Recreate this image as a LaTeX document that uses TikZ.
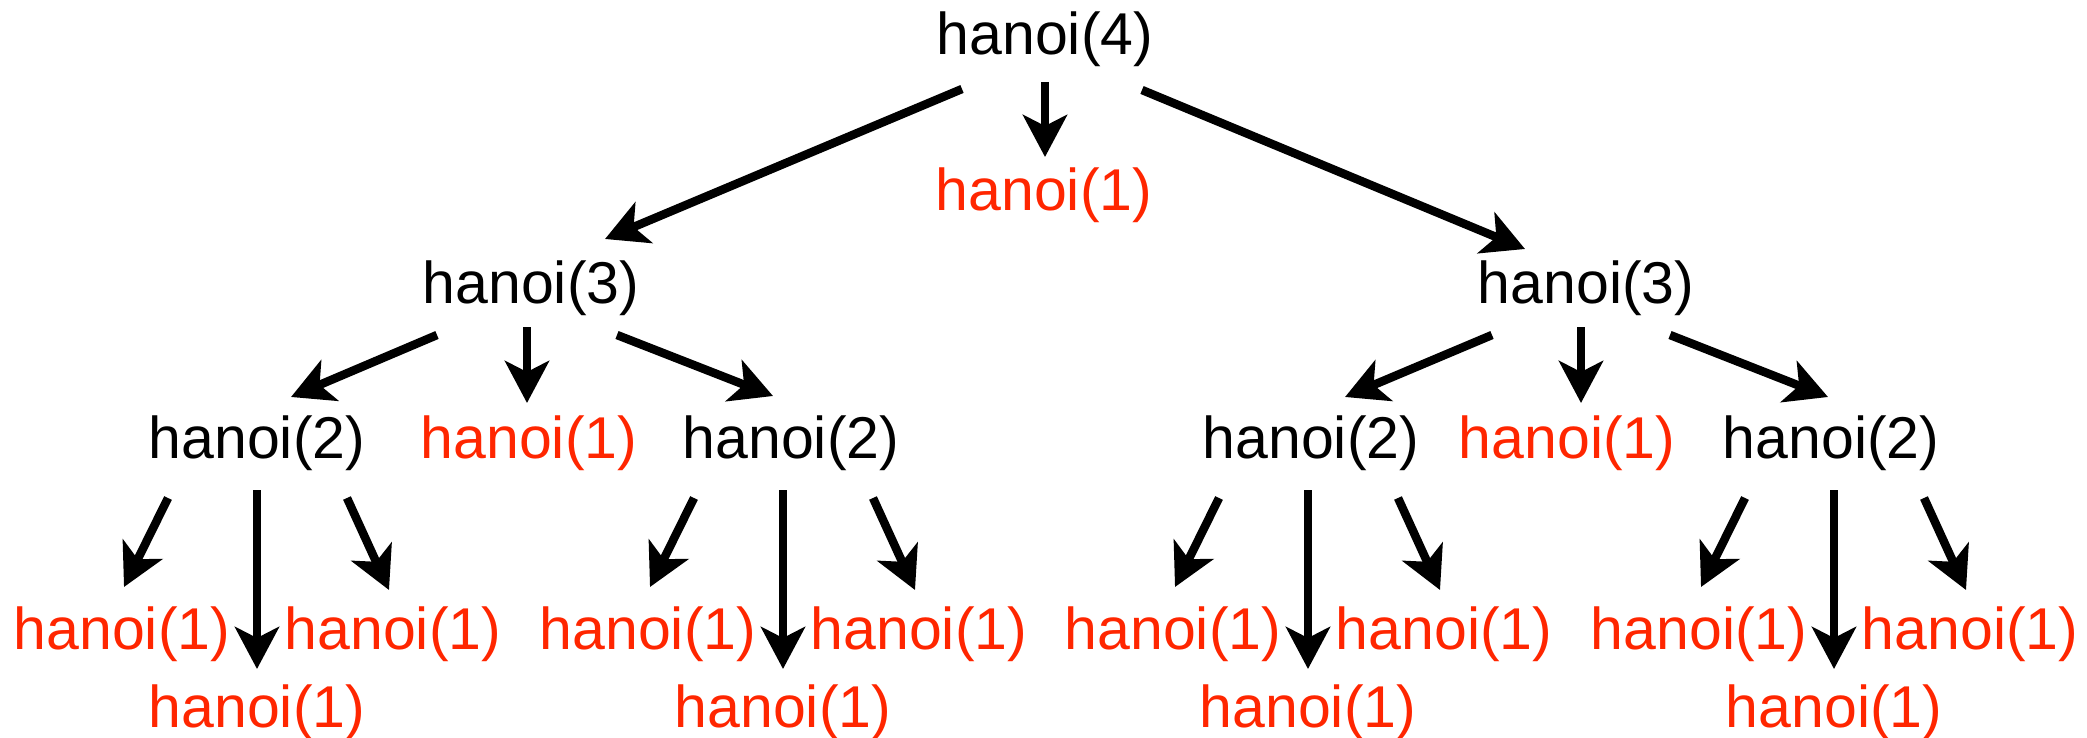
\documentclass[tikz,border=0pt]{standalone}
\usepackage{fontspec}
\setmainfont{Liberation Sans}
\usetikzlibrary{arrows.meta}
\definecolor{hred}{RGB}{255,38,0}
\begin{document}
\begin{tikzpicture}[x=1pt,y=-1pt,
  lbl/.style={anchor=base,inner sep=0pt,font=\fontsize{59}{59}\selectfont},
  blk/.style={lbl,text=black},
  leaf/.style={lbl,text=hred},
  arr/.style={line width=8.5pt,-{Stealth[length=42pt,width=44pt,inset=11pt]}}]
\fill[white] (0,0) rectangle (2087,738);
\useasboundingbox (0,0) rectangle (2087,738);
% nodes
\node[blk] (n4) at (1045,55) {hanoi(4)};
\node[leaf] (t1) at (1044,211) {hanoi(1)};
\node[blk] (n3a) at (531,303) {hanoi(3)};
\node[blk] (n3b) at (1586,303) {hanoi(3)};
\node[blk] (n2a) at (257,458) {hanoi(2)};
\node[leaf] (m1a) at (529,458) {hanoi(1)};
\node[blk] (n2b) at (791,458) {hanoi(2)};
\node[blk] (n2c) at (1311,458) {hanoi(2)};
\node[leaf] (m1b) at (1567,458) {hanoi(1)};
\node[blk] (n2d) at (1831,458) {hanoi(2)};
% top arrows
\draw[arr] ([shift={(-83,34)}]n4.base) -- ([shift={(74,-64)}]n3a.base);
\draw[arr] ([shift={(0,27)}]n4.base) -- ([shift={(1,-54)}]t1.base);
\draw[arr] ([shift={(97,35)}]n4.base) -- ([shift={(-61,-54)}]n3b.base);
% second level arrows
\draw[arr] ([shift={(-94,32)}]n3a.base) -- ([shift={(34,-61)}]n2a.base);
\draw[arr] ([shift={(-4,24)}]n3a.base) -- ([shift={(-2,-55)}]m1a.base);
\draw[arr] ([shift={(86,32)}]n3a.base) -- ([shift={(-18,-62)}]n2b.base);
\draw[arr] ([shift={(-94,32)}]n3b.base) -- ([shift={(34,-61)}]n2c.base);
\draw[arr] ([shift={(-5,24)}]n3b.base) -- ([shift={(14,-55)}]m1b.base);
\draw[arr] ([shift={(84,32)}]n3b.base) -- ([shift={(-3,-61)}]n2d.base);
% leaves
\foreach \p/\c/\d in {n2a/257/0,n2b/783/-8,n2c/1308/-3,n2d/1834/3} {
  \node[leaf] (\p-L) at (\c-135,649) {hanoi(1)};
  \node[leaf] (\p-R) at (\c+136,649) {hanoi(1)};
  \node[leaf] (\p-B) at (\c,727) {hanoi(1)};
  \draw[arr] ([shift={(\d-89,40)}]\p.base) -- ([shift={(2,-62)}]\p-L.base);
  \draw[arr] ([shift={(\d,32)}]\p.base) -- ([shift={(0,-58)}]\p-B.base);
  \draw[arr] ([shift={(\d+90,40)}]\p.base) -- ([shift={(-4,-59)}]\p-R.base);
}
\end{tikzpicture}
\end{document}
